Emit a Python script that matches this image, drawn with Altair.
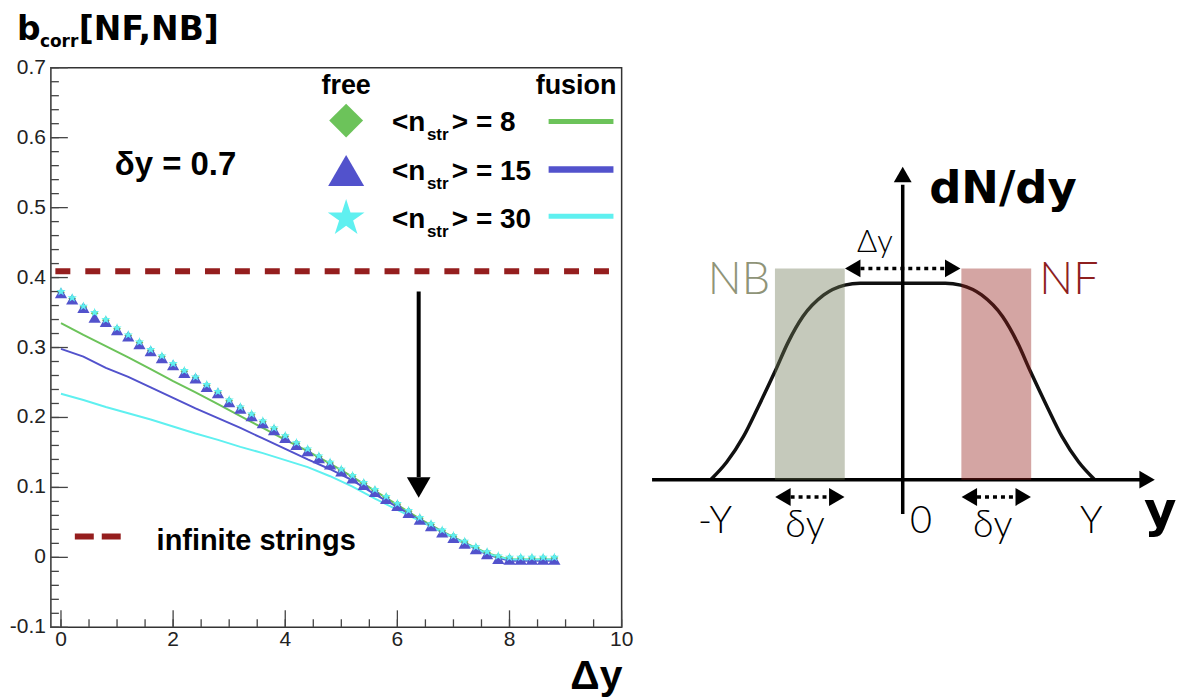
import altair as alt
import pandas as pd

FONT = "Liberation Sans"
TITLE_FONT = "DejaVu Sans"
DIAG_FONT = "Lato"
DIAG_BOLD = "DejaVu Sans"
STAR = ("M0,-1L0.225,-0.309L0.951,-0.309L0.363,0.118L0.588,0.809L0,0.382"
        "L-0.588,0.809L-0.363,0.118L-0.951,-0.309L-0.225,-0.309Z")

# ---------------- left panel: b_corr[NF,NB] versus Delta y ----------------
DY_FREE = [0.0, 0.2, 0.4, 0.6, 0.8, 1.0, 1.2, 1.4, 1.6, 1.8,
           2.0, 2.2, 2.4, 2.6, 2.8, 3.0, 3.2, 3.4, 3.6, 3.8,
           4.0, 4.2, 4.4, 4.6, 4.8, 5.0, 5.2, 5.4, 5.6, 5.8,
           6.0, 6.2, 6.4, 6.6, 6.8, 7.0, 7.2, 7.4, 7.6, 7.8,
           8.0, 8.2, 8.4, 8.6, 8.8]
FREE_8 = [0.379, 0.370, 0.358, 0.349, 0.339, 0.327, 0.317, 0.307, 0.296, 0.287,
          0.276, 0.266, 0.257, 0.246, 0.236, 0.224, 0.214, 0.204, 0.194, 0.184,
          0.173, 0.163, 0.154, 0.144, 0.135, 0.125, 0.116, 0.106, 0.096, 0.086,
          0.076, 0.066, 0.056, 0.047, 0.038, 0.030, 0.022, 0.014, 0.007, 0.001,
          -0.001, -0.001, -0.001, -0.001, -0.001]
FREE_15 = [0.378, 0.369, 0.357, 0.343, 0.337, 0.325, 0.316, 0.305, 0.295, 0.285,
           0.275, 0.264, 0.256, 0.244, 0.235, 0.222, 0.213, 0.202, 0.192, 0.182,
           0.171, 0.161, 0.152, 0.142, 0.133, 0.123, 0.113, 0.104, 0.094, 0.084,
           0.074, 0.064, 0.054, 0.045, 0.036, 0.028, 0.020, 0.012, 0.005, -0.002,
           -0.003, -0.003, -0.003, -0.003, -0.003]
FREE_30 = [0.380, 0.371, 0.359, 0.350, 0.340, 0.328, 0.318, 0.308, 0.297, 0.288,
           0.277, 0.267, 0.258, 0.247, 0.237, 0.225, 0.215, 0.205, 0.195, 0.185,
           0.174, 0.164, 0.155, 0.145, 0.136, 0.126, 0.117, 0.107, 0.097, 0.087,
           0.077, 0.067, 0.057, 0.048, 0.039, 0.031, 0.023, 0.015, 0.008, 0.002,
           0.000, 0.000, 0.000, 0.000, 0.000]

DY_FUSION = [0.0, 0.4, 0.8, 1.2, 1.6, 2.0, 2.4, 2.8, 3.2, 3.6, 4.0, 4.4,
             4.8, 5.2, 5.6, 6.0, 6.4, 6.8, 7.2, 7.6, 8.0, 8.4, 8.8]
FUSION_8 = [0.335, 0.318, 0.302, 0.286, 0.269, 0.252, 0.236, 0.219, 0.202, 0.185, 0.168, 0.152,
            0.134, 0.115, 0.095, 0.075, 0.055, 0.037, 0.021, 0.006, -0.003, -0.003, -0.003]
FUSION_15 = [0.298, 0.287, 0.271, 0.258, 0.243, 0.228, 0.213, 0.199, 0.185, 0.170, 0.155, 0.140,
             0.126, 0.110, 0.090, 0.072, 0.053, 0.036, 0.020, 0.004, -0.005, -0.005, -0.005]
FUSION_30 = [0.234, 0.225, 0.215, 0.206, 0.197, 0.187, 0.177, 0.168, 0.158, 0.149, 0.139, 0.129,
             0.116, 0.101, 0.084, 0.068, 0.052, 0.036, 0.020, 0.005, -0.003, -0.003, -0.003]

INFINITE_STRINGS = 0.409
INF_X = [-0.1, 9.8]
ARROW_X = 6.38
ARROW_FROM = 0.38
ARROW_TO = 0.115
ARROW_HEAD = 0.100

N_STR = ["8", "15", "30"]
GREEN, BLUE, CYAN = "#6cc35a", "#5252cc", "#5ff0f0"
DARKRED = "#951e1e"

Y_TICKS = [-0.1, 0.0, 0.1, 0.2, 0.3, 0.4, 0.5, 0.6, 0.7]
Y_TICK_LABELS = ["-0.1", "0", "0.1", "0.2", "0.3", "0.4", "0.5", "0.6", "0.7"]
X_TICKS = [0, 2, 4, 6, 8, 10]
X_TICK_LABELS = ["0", "2", "4", "6", "8", "10"]
Y_MINOR = [round(-0.1 + 0.02 * i, 3) for i in range(41)]
X_MINOR = [0.5 * i for i in range(21)]

# ---------------- right panel: dN/dy sketch ----------------
CURVE_U = [-2.75, -2.52, -2.28, -2.07, -1.83, -1.64, -1.43, -1.13, -0.83, -0.61,
           0.61, 0.83, 1.13, 1.43, 1.64, 1.83, 2.07, 2.28, 2.52, 2.75]
CURVE_W = [0.0, 0.09, 0.22, 0.37, 0.55, 0.70, 0.83, 0.94, 0.99, 1.0,
           1.0, 0.99, 0.94, 0.83, 0.70, 0.55, 0.37, 0.22, 0.09, 0.0]
BOX_NAMES = ["NB", "NF"]
BOX_LEFT = [-1.83, 0.84]
BOX_RIGHT = [-0.83, 1.84]
BOX_TOP = 1.075
BOX_COLORS = ["#6f7854", "#931e19"]
TEXT_COLORS = ["#8f9478", "#8e1f1f"]

W, H = 1127, 561
LX = alt.Scale(domain=[-0.18, 19.87], nice=False, zero=False)
LY = alt.Scale(domain=[-0.1, 0.7], nice=False, zero=False)
RX = alt.Scale(domain=[-12.2, 3.9], nice=False, zero=False)
RY = alt.Scale(domain=[-0.751, 2.096], nice=False, zero=False)
ONE = pd.DataFrame({"a": [0]})


def lx(f):
    return alt.X(f, scale=LX, axis=None)


def ly(f):
    return alt.Y(f, scale=LY, axis=None)


def rx(f):
    return alt.X(f, scale=RX, axis=None)


def ry(f):
    return alt.Y(f, scale=RY, axis=None)


def ptext(txt, px, py, size, weight="bold", align="left", color="black", baseline="alphabetic", font=FONT):
    return alt.Chart(ONE).mark_text(
        text=txt, fontSize=size, fontWeight=weight, font=font, align=align,
        baseline=baseline, color=color
    ).encode(x=alt.value(px), y=alt.value(py))


left = []
# frame
left.append(alt.Chart(pd.DataFrame({"x": [-0.18], "x2": [10], "y": [-0.1], "y2": [0.7]}))
            .mark_rect(fillOpacity=0, stroke="#333", strokeWidth=1.5)
            .encode(x=lx("x:Q"), x2="x2:Q", y=ly("y:Q"), y2="y2:Q"))
# ticks (inward, ROOT style)
left.append(alt.Chart(pd.DataFrame({"v": Y_TICKS})).mark_rule(color="#444", strokeWidth=1.3)
            .encode(y=ly("v:Q"), x=alt.value(0), x2=alt.value(17)))
left.append(alt.Chart(pd.DataFrame({"v": Y_MINOR})).mark_rule(color="#444", strokeWidth=1.3)
            .encode(y=ly("v:Q"), x=alt.value(0), x2=alt.value(8)))
left.append(alt.Chart(pd.DataFrame({"v": X_TICKS})).mark_rule(color="#444", strokeWidth=1.3)
            .encode(x=lx("v:Q"), y=alt.value(H), y2=alt.value(H - 17)))
left.append(alt.Chart(pd.DataFrame({"v": X_MINOR})).mark_rule(color="#444", strokeWidth=1.3)
            .encode(x=lx("v:Q"), y=alt.value(H), y2=alt.value(H - 8)))
# tick labels
left.append(alt.Chart(pd.DataFrame({"v": Y_TICKS, "t": Y_TICK_LABELS}))
            .mark_text(font=FONT, fontSize=21, align="right", baseline="middle", color="#222")
            .encode(y=ly("v:Q"), x=alt.value(-5), text="t:N"))
left.append(alt.Chart(pd.DataFrame({"v": X_TICKS, "t": X_TICK_LABELS}))
            .mark_text(font=FONT, fontSize=21, align="center", baseline="middle", color="#222")
            .encode(x=lx("v:Q"), y=alt.value(H + 13), text="t:N"))
# infinite strings limit
left.append(alt.Chart(pd.DataFrame({"x": [INF_X[0]], "x2": [INF_X[1]], "y": [INFINITE_STRINGS]}))
            .mark_rule(color=DARKRED, strokeWidth=6, strokeDash=[15, 15])
            .encode(x=lx("x:Q"), x2="x2:Q", y=ly("y:Q")))
# fusion lines
for vals, col in [(FUSION_8, GREEN), (FUSION_15, BLUE), (FUSION_30, CYAN)]:
    left.append(alt.Chart(pd.DataFrame({"x": DY_FUSION, "y": vals}))
                .mark_line(color=col, strokeWidth=2)
                .encode(x=lx("x:Q"), y=ly("y:Q")))
# free markers
for vals, col, shp, sz in [(FREE_8, GREEN, "diamond", 60), (FREE_15, BLUE, "triangle-up", 150),
                           (FREE_30, CYAN, STAR, 95)]:
    left.append(alt.Chart(pd.DataFrame({"x": DY_FREE, "y": vals}))
                .mark_point(shape=shp, filled=True, size=sz, color=col, opacity=1)
                .encode(x=lx("x:Q"), y=ly("y:Q")))
# arrow
left.append(alt.Chart(pd.DataFrame({"x": [ARROW_X], "y": [ARROW_FROM], "y2": [ARROW_TO]}))
            .mark_rule(color="black", strokeWidth=4)
            .encode(x=lx("x:Q"), y=ly("y:Q"), y2="y2:Q"))
left.append(alt.Chart(pd.DataFrame({"x": [ARROW_X], "y": [ARROW_HEAD]}))
            .mark_point(shape="triangle-down", filled=True, size=560, color="black", opacity=1)
            .encode(x=lx("x:Q"), y=ly("y:Q")))
# title and labels
left.append(ptext("b", -34, -28, 33, font=TITLE_FONT))
left.append(ptext("corr", -11, -21, 17, font=TITLE_FONT))
left.append(ptext("[NF,NB]", 28, -28, 33, font=TITLE_FONT))
left.append(ptext("\u03b4y = 0.7", 64, 108, 33))
left.append(ptext("\u0394y", 573, 623, 41, align="right"))
left.append(ptext("free", 296, 26, 27, align="center"))
left.append(ptext("fusion", 567, 26, 27, align="right"))
rows_sym = [53, 103, 151]
rows_base = [63, 113, 161]
rows_line = [54, 102, 149]
line_w = [5, 6.5, 5]
for i, (col, shp, sz) in enumerate([(GREEN, "diamond", 1150), (BLUE, "triangle-up", 1300), (CYAN, STAR, 1500)]):
    left.append(alt.Chart(ONE).mark_point(shape=shp, filled=True, size=sz, color=col, opacity=1)
                .encode(x=alt.value(296), y=alt.value(rows_sym[i])))
    left.append(ptext("<n", 342, rows_base[i], 28))
    left.append(ptext("str", 377, rows_base[i] + 9, 17))
    left.append(ptext("> = " + N_STR[i], 402, rows_base[i], 28))
    left.append(alt.Chart(ONE).mark_rule(color=col, strokeWidth=line_w[i])
                .encode(x=alt.value(499), x2=alt.value(564), y=alt.value(rows_line[i])))
left.append(alt.Chart(ONE).mark_rule(color=DARKRED, strokeWidth=6, strokeDash=[19, 8])
            .encode(x=alt.value(24), x2=alt.value(70), y=alt.value(470)))
left.append(ptext("infinite strings", 106, 484, 29))

# ---------------- right group ----------------
right = []
right.append(alt.Chart(pd.DataFrame({"u": CURVE_U, "w": CURVE_W}))
             .mark_line(color="#111", strokeWidth=3.5, interpolate="monotone")
             .encode(x=rx("u:Q"), y=ry("w:Q")))
right.append(alt.Chart(pd.DataFrame({"u": [-3.59], "u2": [3.45], "w": [0.0]}))
             .mark_rule(color="black", strokeWidth=3.5)
             .encode(x=rx("u:Q"), x2="u2:Q", y=ry("w:Q")))
right.append(alt.Chart(pd.DataFrame({"u": [0.0], "w": [-0.175], "w2": [1.50]}))
             .mark_rule(color="black", strokeWidth=3.5)
             .encode(x=rx("u:Q"), y=ry("w:Q"), y2="w2:Q"))
right.append(alt.Chart(pd.DataFrame({"u": BOX_LEFT, "u2": BOX_RIGHT, "w": [0, 0], "w2": [BOX_TOP, BOX_TOP],
                                     "c": BOX_COLORS}))
             .mark_rect(opacity=0.4)
             .encode(x=rx("u:Q"), x2="u2:Q", y=ry("w:Q"), y2="w2:Q", color=alt.Color("c:N", scale=None)))
# dotted double arrows: Delta y between the windows, delta y under each window
DOT_U = [-0.72, -1.72, 0.95]
DOT_U2 = [0.72, -0.94, 1.73]
DOT_W = [BOX_TOP, -0.088, -0.088]
right.append(alt.Chart(pd.DataFrame({"u": DOT_U, "u2": DOT_U2, "w": DOT_W}))
             .mark_rule(color="black", strokeWidth=3.5, strokeDash=[4, 4])
             .encode(x=rx("u:Q"), x2="u2:Q", y=ry("w:Q")))
HEAD_U = [-0.716, 0.716, -1.716, -0.944, 0.954, 1.726, 3.50, 0.0]
HEAD_W = [BOX_TOP, BOX_TOP, -0.088, -0.088, -0.088, -0.088, 0.0, 1.553]
HEAD_S = ["triangle-left", "triangle-right", "triangle-left", "triangle-right",
          "triangle-left", "triangle-right", "triangle-right", "triangle-up"]
right.append(alt.Chart(pd.DataFrame({"u": HEAD_U, "w": HEAD_W, "s": HEAD_S}))
             .mark_point(filled=True, size=320, color="black", opacity=1)
             .encode(x=rx("u:Q"), y=ry("w:Q"), shape=alt.Shape("s:N", scale=None)))


def dtext(txt, u, w, size, color="black", font=DIAG_FONT, weight=300, align="center"):
    return alt.Chart(pd.DataFrame({"u": [u], "w": [w]})).mark_text(
        text=txt, fontSize=size, font=font, fontWeight=weight, color=color,
        align=align, baseline="alphabetic"
    ).encode(x=rx("u:Q"), y=ry("w:Q"))


right.append(dtext("dN/dy", 0.38, 1.408, 45, font=DIAG_BOLD, weight="bold", align="left"))
right.append(dtext("\u0394y", -0.40, 1.157, 31))
right.append(dtext(BOX_NAMES[0], -1.90, 0.944, 45, color=TEXT_COLORS[0], align="right"))
right.append(dtext(BOX_NAMES[1], 1.957, 0.944, 45, color=TEXT_COLORS[1], align="left"))
right.append(dtext("-Y", -2.69, -0.27, 38))
right.append(dtext("\u03b4y", -1.40, -0.294, 38))
right.append(dtext("0", 0.26, -0.27, 38))
right.append(dtext("\u03b4y", 1.29, -0.294, 38))
right.append(dtext("Y", 2.70, -0.27, 38))
right.append(dtext("y", 3.69, -0.24, 50, font=DIAG_BOLD, weight="bold"))

chart = (
    alt.layer(alt.layer(*left), alt.layer(*right))
    .resolve_scale(x="independent", y="independent")
    .properties(width=W, height=H,
                autosize=alt.AutoSizeParams(type="none"),
                padding={"left": 43, "top": 59, "right": 8, "bottom": 71})
    .configure_view(strokeWidth=0)
)

chart.save("out.html", embed_options={"renderer": "svg", "actions": False})
